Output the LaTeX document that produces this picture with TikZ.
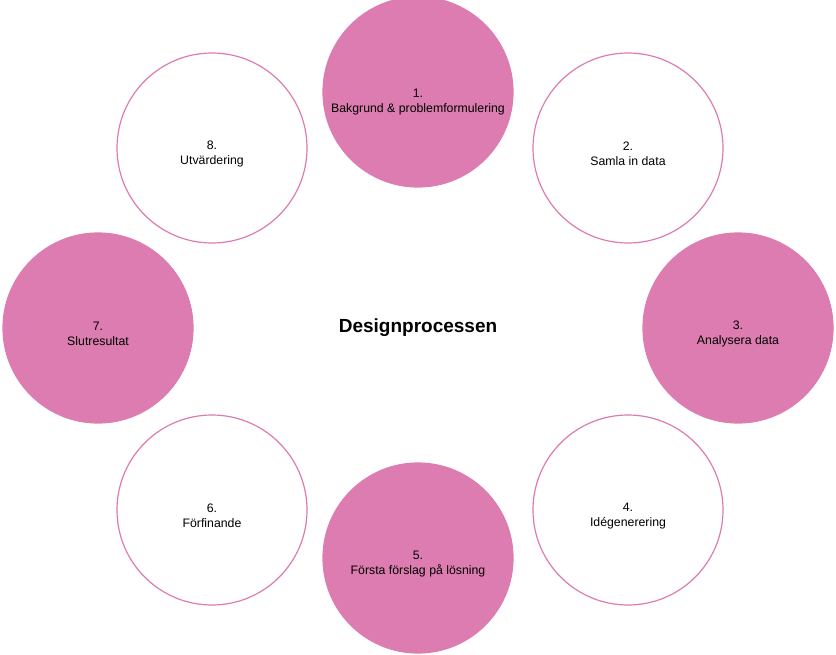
\documentclass[tikz,border=0pt]{standalone}
\usepackage{fontspec}
\setmainfont{Liberation Sans}
\begin{document}
\begin{tikzpicture}[x=1pt,y=-1pt]
\definecolor{pk}{HTML}{DC7CB0}
\tikzset{
 base/.style={circle,minimum size=190pt,inner sep=0pt,line width=1.2pt,draw=pk},
 full/.style={base,fill=pk},
 empty/.style={base,fill=white},
 txt/.style={align=center,font=\fontsize{12.3}{15}\selectfont}}
\useasboundingbox (0,0) rectangle (836,654);
\node[full] (n1) at (418,92) {};
\node[empty] (n2) at (628,148) {};
\node[full] (n3) at (738,328) {};
\node[empty] (n4) at (628,510) {};
\node[full] (n5) at (418,558) {};
\node[empty] (n6) at (212,510) {};
\node[full] (n7) at (98,328) {};
\node[empty] (n8) at (212,148) {};
\node[txt] (l1) at ([yshift=-10pt]n1.center) {1.\\Bakgrund \& problemformulering};
\node[txt] (l2) at ([yshift=-6pt]n2.center) {2.\\Samla in data};
\node[txt] (l3) at ([yshift=-6pt]n3.center) {3.\\Analysera data};
\node[txt] (l4) at ([yshift=-6pt]n4.center) {4.\\Idégenerering};
\node[txt] (l5) at ([yshift=-6pt]n5.center) {5.\\Första förslag på lösning};
\node[txt] (l6) at ([yshift=-6pt]n6.center) {6.\\Förfinande};
\node[txt] (l7) at ([yshift=-6pt]n7.center) {7.\\Slutresultat};
\node[txt] (l8) at ([yshift=-6pt]n8.center) {8.\\Utvärdering};
\node[font=\bfseries\fontsize{19}{22}\selectfont] (t) at (418,328) {Designprocessen};
\end{tikzpicture}
\end{document}
